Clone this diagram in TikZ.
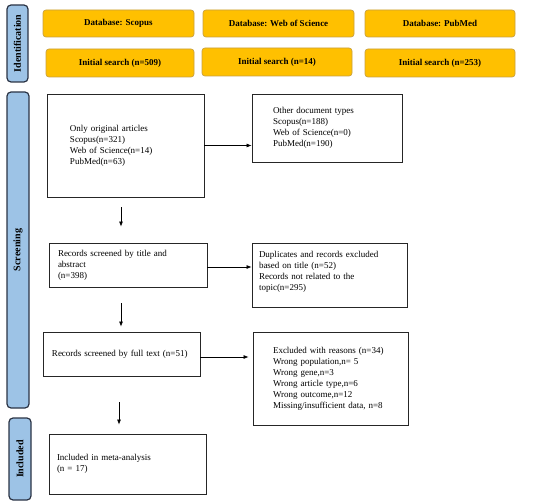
\documentclass[tikz,border=0pt]{standalone}
\usepackage{fontspec}
\setmainfont{Liberation Serif}
\usetikzlibrary{arrows.meta}
\definecolor{orangefill}{HTML}{FFC000}
\definecolor{orangedraw}{HTML}{C8A040}
\definecolor{tabfill}{HTML}{9DC3E6}
\definecolor{tabdraw}{HTML}{2B3445}
\tikzset{
  dbbox/.style={draw=orangedraw, fill=orangefill, line width=0.7pt, rounded corners=3pt,
    font=\fontsize{9}{10}\selectfont\bfseries, inner sep=0pt},
  tabbox/.style={draw=tabdraw, fill=tabfill, line width=1.2pt, rounded corners=4pt, inner sep=0pt},
  tablabel/.style={rotate=90, font=\fontsize{10}{11}\selectfont\bfseries},
  wbox/.style={draw=black!85, line width=0.8pt, fill=white, align=left, inner sep=0pt,
    font=\fontsize{9}{11}\selectfont},
  arr/.style={-{Latex[length=5pt,width=4pt]}, line width=0.7pt, black}
}
\begin{document}
\begin{tikzpicture}[x=1pt,y=1pt]
\useasboundingbox (0,0) rectangle (550,-503);
% side tabs
\node[tabbox, minimum width=21, minimum height=77] (tid) at (17.5,-43.5) {};
\node[tablabel] (tidl) at (tid.center) {Identification};
\node[tabbox, minimum width=22, minimum height=316] (tsc) at (18,-250) {};
\node[tablabel] (tscl) at (tsc.center) {Screening};
\node[tabbox, minimum width=22, minimum height=82] (tin) at (20,-459) {};
\node[tablabel] (tinl) at (tin.center) {Included};
% database boxes
\node[dbbox, minimum width=151, minimum height=27] (db1) at (118.5,-23.5) {Database: Scopus};
\node[dbbox, minimum width=151, minimum height=27] (db2) at (278.5,-23.5) {Database: Web of Science};
\node[dbbox, minimum width=150, minimum height=27] (db3) at (440,-23.5) {Database: PubMed};
\node[dbbox, minimum width=148, minimum height=28] (is1) at (120,-63) {Initial search (n=509)};
\node[dbbox, minimum width=150, minimum height=28] (is2) at (277,-62) {Initial search (n=14)};
\node[dbbox, minimum width=150, minimum height=28] (is3) at (440,-63) {Initial search (n=253)};
% flow boxes
\node[wbox, minimum width=157, minimum height=103, text width=111] (b1) at (125.5,-145.5)
  {Only original articles\\Scopus(n=321)\\Web of Science(n=14)\\PubMed(n=63)};
\node[wbox, minimum width=150, minimum height=68, text width=108] (o1) at (327,-128)
  {Other document types\\Scopus(n=188)\\Web of Science(n=0)\\PubMed(n=190)};
\node[wbox, minimum width=158, minimum height=44, text width=140] (b2) at (128,-265)
  {Records screened by title and\\abstract\\(n=398)};
\node[wbox, minimum width=155, minimum height=64, text width=141] (o2) at (329.5,-275)
  {Duplicates and records excluded\\based on title (n=52)\\Records not related to the\\topic(n=295)\\[-2pt]\mbox{}};
\node[wbox, minimum width=157, minimum height=44, text width=139] (b3) at (121.5,-354)
  {Records screened by full text (n=51)};
\node[wbox, minimum width=155, minimum height=93, text width=115] (o3) at (330.5,-378.5)
  {Excluded with reasons (n=34)\\Wrong population,n= 5\\Wrong gene,n=3\\Wrong article type,n=6\\Wrong outcome,n=12\\Missing/insufficient data, n=8};
\node[wbox, minimum width=157, minimum height=60, text width=141] (b4) at (127.5,-464)
  {Included in meta-analysis\\(n = 17)};
% arrows
\draw[arr] (b1.east) -- (b1.east -| o1.west);
\draw[arr] ([yshift=-2pt]b2.east) -- ([yshift=-2pt]b2.east -| o2.west);
\draw[arr, shorten >=4pt] ([yshift=-3pt]b3.east) -- ([yshift=-3pt]b3.east -| o3.west);
\draw[arr, shorten <=10pt, shorten >=16pt] ([xshift=-4.5pt]b1.south) -- ([xshift=-4.5pt]b1.south |- b2.north);
\draw[arr, shorten <=16pt, shorten >=5pt] ([xshift=-7pt]b2.south) -- ([xshift=-7pt]b2.south |- b3.north);
\draw[arr, shorten <=26pt, shorten >=9pt] ([xshift=-2.5pt]b3.south) -- ([xshift=-2.5pt]b3.south |- b4.north);
\end{tikzpicture}
\end{document}
